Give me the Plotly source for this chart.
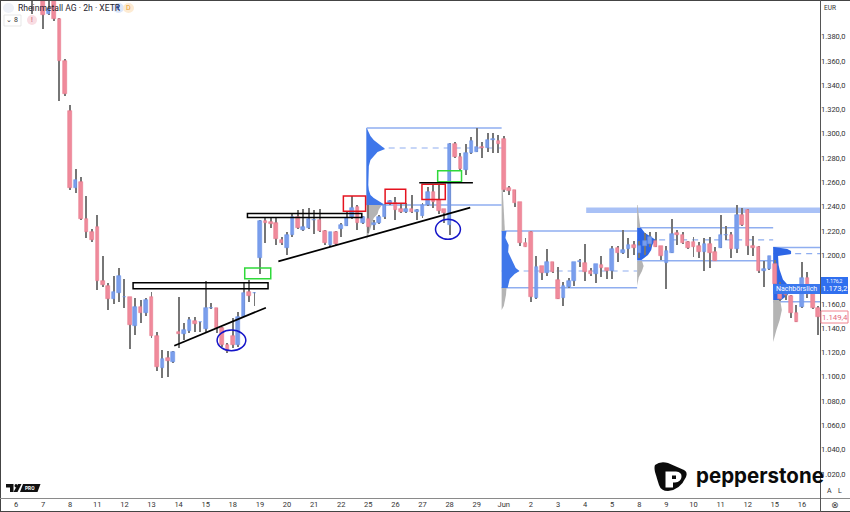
import plotly.graph_objects as go

W, H = 850, 512
ML, MR, MT, MB = 1, 30, 1, 14

# candles, index 0 = first candle of day 6, 5 candles (2h) per day
first_idx = 3
opens = [1425,1430,1420,1398.5,1411,1394.5,1360,1319,1255.4,1260.6,
         1230,1219.4,1223,1178.8,1174.7,1163.8,1169.2,1165.6,1165.4,1141.8,
         1157.2,1152.3,1165.4,1133.8,1107.5,1115.2,1112.4,1136.6,1135.2,1137.7,
         1146.2,1144.7,1139,1156.6,1156.4,1139.9,1126.2,1133.6,1126.2,1149.5,
         1169.5,1169,1197.5,1228.5,1227.5,1226.3,1212.6,1206.2,1216.4,1231.3,
         1220.8,1222.7,1229,1229,1220.2,1208.5,1219.4,1221.9,1224.3,1231.8,
         1239.5,1226.3,1229.6,1224.7,1226.3,1231.3,1242.2,1242.8,1237.9,1235.6,
         1237.9,1236,1232.3,1241.4,1252.3,1245.5,1237.9,1225,1292,1280.6,
         1270.2,1284,1285.2,1289.4,1288,1295,1294.4,1295.7,1255.1,1253.7,
         1243.6,1209.9,1219.4,1164.6,1191,1185.7,1194.2,1179.7,1165.1,1173.7,
         1179,1194.5,1193.4,1186.8,1184.4,1192,1189.3,1186.8,1205.7,1201.6,
         1205.4,1208.5,1202,1208,1209,1212,1207.6,1193.4,1202,1218,
         1216.4,1210.7,1210.7,1207.6,1203,1209,1202.4,1206.2,1216.4,1216.7,
         1205,1233,1237.3,1207.6,1207,1187.3,1188.4,1192.8,1175.5,1167.6,
         1166.5,1152.3,1157.2,1181,1173.2,1156.7]
closes = [1415,1418,1398,1403,1394.5,1360,1333,1255.4,1262,1229.6,
          1219.4,1212.6,1178.8,1175.5,1163.8,1169.8,1183,1166,1142.6,1157.7,
          1152.3,1163.2,1133.6,1108.3,1114.6,1112.8,1120.6,1135.2,1138.5,1146.7,
          1143.7,1145,1156.6,1157,1139.9,1126.2,1121.5,1126.2,1149.5,1169.2,
          1166.7,1169.3,1228.5,1226.3,1226,1213.2,1210.4,1216.4,1231.8,1222.2,
          1223,1229.9,1229.4,1220,1210.4,1218.9,1209,1224.9,1231,1239,
          1226.3,1231.3,1223.5,1226.3,1231.8,1241.4,1244.7,1237.3,1235.6,1237.9,
          1235.6,1237.5,1241.4,1252.3,1244.1,1236.7,1234.6,1291.6,1280.6,1270.8,
          1284,1294,1289.4,1288,1295,1295.5,1291.6,1253.7,1252.9,1243.3,
          1209.9,1207,1165.4,1190.6,1185.7,1194.2,1186,1164,1175,1178.8,
          1194.2,1195.5,1186,1184.6,1192.6,1189.8,1186.8,1204.9,1201.6,1204.3,
          1208.5,1205.7,1208,1212,1215,1207,1199.7,1203.5,1217.8,1216.7,
          1209.9,1205.7,1206.6,1203,1209,1202,1195.5,1216.7,1216.9,1205,
          1233,1224.9,1207.6,1205.7,1187.3,1189,1199.4,1176,1164,1167,
          1152.3,1145.3,1181,1168,1156.7,1149.4]
highs = [1430,1432,1425,1412,1415,1395,1361.5,1323.7,1271,1264.7,
         1248.8,1222,1233,1199.4,1177,1183,1189.3,1180.5,1166,1164.6,
         1163.2,1164.8,1170,1137,1122,1121.5,1121.5,1165.9,1144,1149.4,
         1149.4,1145.4,1178.8,1160.5,1157,1141,1127.5,1148,1153.3,1177,
         1179.7,1169.5,1229,1231.8,1230.4,1230.4,1215.3,1219.4,1234.8,1237,
         1238.4,1239.2,1237.3,1237.9,1221,1219.4,1219.8,1226.8,1235.9,1248.8,
         1241.4,1232,1241.4,1229,1233,1242.6,1245.5,1248.3,1242.8,1243.3,
         1249.6,1238,1243,1256.4,1257.9,1257.9,1238.4,1292.8,1293.5,1283.9,
         1292,1297.6,1304.5,1293.5,1300.4,1300.4,1299,1298.5,1257,1254,
         1244,1214.4,1220.2,1199.7,1191.5,1204.9,1194.6,1190.6,1178,1181.6,
         1194.6,1197,1209,1189.3,1193,1199.4,1189.7,1207.9,1207.6,1220.8,
         1214,1212,1212,1218,1219.4,1219.4,1208,1207.6,1229.6,1220.8,
         1219.4,1211.5,1215.3,1211.2,1214.4,1215.3,1207,1233,1224,1219,
         1241.4,1238.7,1238.4,1215.9,1207.6,1195.5,1199.7,1196,1178,1170,
         1167,1159,1194.2,1186.5,1175,1158]
lows = [1398.5,1412,1386,1398,1392.8,1327,1331,1253.7,1251,1229.3,
        1214,1211.2,1171.5,1174,1155,1160,1161.8,1156.7,1122.9,1134.4,
        1144.5,1150,1132.2,1104.8,1098.8,1099.6,1111.4,1124,1130.3,1136,
        1137,1137,1137,1155.5,1136,1124.8,1119.8,1123.5,1124.8,1149,
        1161.8,1158,1184.6,1209.9,1222.2,1208.5,1208.5,1200.2,1215.3,1221.4,
        1220,1222,1217.3,1218.9,1208.5,1207,1207.7,1215.3,1224,1230,
        1220.8,1225.5,1218.1,1220.8,1225.5,1229.6,1241.4,1229,1234.8,1234.8,
        1234.8,1229,1230.4,1240.6,1238.7,1233.7,1226.3,1216.7,1279.8,1270,
        1266,1283.5,1284.8,1279.8,1285.2,1284.4,1284.4,1252.3,1250,1240,
        1207.6,1206.7,1161.8,1164,1179.7,1183,1185.5,1163.8,1158.5,1173,
        1174.7,1190.6,1179,1183,1177,1182.4,1180.5,1180.7,1194.7,1201,
        1197.5,1200.2,1198,1200,1207,1206.8,1196.1,1172,1202,1208.5,
        1209,1205,1198.8,1197.5,1187.3,1189.3,1195.3,1206,1212.6,1198,
        1201.6,1224.5,1200.2,1199.4,1185.2,1174,1188,1170,1162.5,1163,
        1148.2,1145,1157,1165,1156,1134.4]

day_labels = ["6","7","8","11","12","13","14","15","18","19","20","21","22","25","26",
              "27","28","29","Jun","2","3","4","5","8","9","10","11","12","15","16"]
price_ticks = [1020,1040,1060,1080,1100,1120,1140,1160,1180,1200,1220,1240,1260,1280,
               1300,1320,1340,1360,1380]

# volume profiles: start candle, price levels, widths in candles
vp1_start = 64.7
vp1_prices = [1304.8,1301.5,1298.2,1294.9,1291.6,1289.1,1287.5,1285,1281.7,1278.4,
              1273.5,1266.1,1257.9,1253.7,1249.6,1247.1,1244.7,1242.2,1241.4]
vp1_widths = [0,.4,.7,1.3,2.2,3,3.4,2,1.3,.7,.4,.3,.3,.4,.7,1.3,2.2,3.1,3.1]
vp1_low_prices = [1241.4,1237.3,1234,1230.7,1225.8,1219.2,1212.6]
vp1_low_widths = [2.8,2.2,2,1.3,.9,.5,0]

vp2_start = 89.6
vp2_prices = [1220,1214.2,1208.5,1202.7,1197.8,1192.8,1189.5,1187.1,1184.6,1180.5,1176.4,1173.1]
vp2_widths = [.9,.7,1.3,1.2,1.7,2.2,2.6,3.3,2.4,1.5,1.2,1.1]
vp2_high_prices = [1253.7,1245.5,1237.3,1229,1220]
vp2_high_widths = [.2,.3,.4,.5,.6]
vp2_low_prices = [1173.1,1167.3,1163.2,1158.3,1155]
vp2_low_widths = [.9,.8,.6,.4,0]

vp3_start = 114.6
vp3_prices = [1222.6,1218.5,1212.7,1208.5,1204.4,1200.2,1196.1]
vp3_widths = [.7,1.4,3.4,2.8,2.6,2,.8]
vp3_high_prices = [1241.4,1233,1222.6]
vp3_high_widths = [.1,.3,.6]
vp3_low_prices = [1195.3,1191.2,1187,1182,1175]
vp3_low_widths = [.9,1.2,.9,.3,0]

vp4_start = 139.7
vp4_prices = [1206.8,1205.2,1203.5,1201,1199.4,1192,1188,1180,1175.5,1167.3,1163.2]
vp4_widths = [.2,2.6,3.3,3.3,.9,1,1.2,1.8,2.7,2.7,1.5]
vp4_low_prices = [1163.2,1155,1146.8,1138.6,1128.7]
vp4_low_widths = [1.3,1.6,1.2,.6,0]

# value area boxes: x0, x1, top, bottom, poc
va_boxes = [(64.7,89.6,1304.8,1241.4,1288.3),
            (89.6,114.6,1220,1173.3,1187.1),
            (114.6,139.7,1222.6,1195.6,1212.7),
            (139.7,148.4,1206.4,1161.8,1201.4)]
band = (105.2,148.4,1239.4,1234.8)

# hand drawn stuff on the chart
black_boxes = [(21.6,46.5,1177.4,1172.4),(42.7,63.8,1234.5,1231.2)]
green_boxes = [(42.2,47,1189.5,1180.7),(77.8,82.2,1269.6,1260.5)]
red_boxes = [(60.4,64.5,1248.8,1236.2),(68.1,71.9,1254.3,1242.8),(74.9,79.2,1258.4,1246)]
circles = [(37.1,42.4,1138.5,1121.5),(77.4,82,1229.6,1213.2)]
black_lines = [(29.2,1125.6,46.1,1156.9),(48.4,1195,83.8,1239.2),(74.4,1259.7,84.3,1259.7)]

X_RANGE = [-2.77, 148.34]
Y_RANGE = [1000.25, 1409.3]

RED = "#F08A9B"
RED_EDGE = "#E87C90"
BLUE = "#7A9EEC"
BLUE_EDGE = "#6C93E8"
VP_BLUE = "#3F77EA"
VP_DARK = "#2D66E6"
VP_GRAY = "#B4B4B4"
BOX_BLUE = "#8FAEF0"


def px(v):
    return (v - ML) / (W - ML - MR)


def py(v):
    return 1 - (v - MT) / (H - MT - MB)


def path(points):
    # points given in image pixels, goes to paper coords for the shape path
    out = []
    for p in points:
        if isinstance(p, str):
            out.append(p)
        else:
            out.append(f"{px(p[0]):.5f},{py(p[1]):.5f}")
    return " ".join(out)


def profile(start, prices, widths, color):
    xs = [start] + [start + w for w in widths] + [start]
    ys = [prices[0]] + prices + [prices[-1]]
    return go.Scatter(x=xs, y=ys, mode="lines", fill="toself", fillcolor=color,
                      line=dict(width=0, color=color), hoverinfo="skip", showlegend=False)


fig = go.Figure()

# profiles sit on the base axes, candles on the overlay axes so they stay on top
fig.add_trace(profile(vp1_start, vp1_prices, vp1_widths, VP_BLUE))
fig.add_trace(profile(vp1_start, vp1_low_prices, vp1_low_widths, VP_GRAY))
fig.add_trace(profile(vp2_start, vp2_prices, vp2_widths, VP_BLUE))
fig.add_trace(profile(vp2_start, vp2_high_prices, vp2_high_widths, VP_GRAY))
fig.add_trace(profile(vp2_start, vp2_low_prices, vp2_low_widths, VP_GRAY))
fig.add_trace(profile(vp3_start, vp3_prices, vp3_widths, VP_DARK))
fig.add_trace(profile(vp3_start, vp3_high_prices, vp3_high_widths, VP_GRAY))
fig.add_trace(profile(vp3_start, vp3_low_prices, vp3_low_widths, VP_GRAY))
fig.add_trace(profile(vp4_start, vp4_prices, vp4_widths, VP_DARK))
fig.add_trace(profile(vp4_start, vp4_low_prices, vp4_low_widths, VP_GRAY))

idx = list(range(first_idx, first_idx + len(opens)))
fig.add_trace(go.Bar(x=idx, base=lows, y=[h - l for h, l in zip(highs, lows)], width=0.18,
                     marker=dict(color="#767676", line=dict(width=0)),
                     xaxis="x2", yaxis="y2", hoverinfo="skip", showlegend=False))
fig.add_trace(go.Bar(x=idx, base=opens, y=[c - o for o, c in zip(opens, closes)], width=0.66,
                     marker=dict(color=[BLUE if c >= o else RED for o, c in zip(opens, closes)],
                                 line=dict(width=0.6,
                                           color=[BLUE_EDGE if c >= o else RED_EDGE
                                                  for o, c in zip(opens, closes)])),
                     xaxis="x2", yaxis="y2", hoverinfo="skip", showlegend=False))

shapes = []

# volume profile boxes under everything
for x0, x1, top, bot, poc in va_boxes:
    shapes.append(dict(type="line", x0=x0, x1=x1, y0=top, y1=top, layer="below",
                       line=dict(color=BOX_BLUE, width=1.5)))
    shapes.append(dict(type="line", x0=x0, x1=x1, y0=bot, y1=bot, layer="below",
                       line=dict(color=BOX_BLUE, width=1.5)))
    shapes.append(dict(type="line", x0=x0, x1=x1, y0=poc, y1=poc, layer="below",
                       line=dict(color=BOX_BLUE, width=1.2, dash="6px,5px")))
shapes.append(dict(type="line", x0=va_boxes[0][0], x1=va_boxes[0][0], y0=va_boxes[0][2], y1=va_boxes[0][3],
                   layer="below", line=dict(color=BOX_BLUE, width=1.2)))
shapes.append(dict(type="rect", x0=band[0], x1=band[1], y0=band[2], y1=band[3], layer="below",
                   fillcolor="#A9C1F6", line=dict(width=0)))

for x0, x1, y0, y1 in black_boxes:
    shapes.append(dict(type="rect", x0=x0, x1=x1, y0=y0, y1=y1, line=dict(color="#000000", width=1.5)))
for x0, x1, y0, y1 in green_boxes:
    shapes.append(dict(type="rect", x0=x0, x1=x1, y0=y0, y1=y1, line=dict(color="#2FD93A", width=1.5)))
for x0, x1, y0, y1 in red_boxes:
    shapes.append(dict(type="rect", x0=x0, x1=x1, y0=y0, y1=y1, line=dict(color="#E5131F", width=1.5)))
for x0, x1, y0, y1 in circles:
    shapes.append(dict(type="circle", x0=x0, x1=x1, y0=y0, y1=y1, line=dict(color="#1414C8", width=1.5)))
for x0, y0, x1, y1 in black_lines:
    shapes.append(dict(type="line", x0=x0, x1=x1, y0=y0, y1=y1, line=dict(color="#000000", width=1.7)))


def paper_rect(x0, y0, x1, y1, fill=None, line=None, lw=1, kind="rect"):
    shapes.append(dict(type=kind, xref="paper", yref="paper", x0=px(x0), x1=px(x1), y0=py(y0), y1=py(y1),
                       fillcolor=fill, line=dict(color=line, width=lw if line else 0)))


def paper_path(points, fill):
    shapes.append(dict(type="path", xref="paper", yref="paper", path=path(points),
                       fillcolor=fill, line=dict(width=0)))


# window edges
paper_rect(0, 0, 850, 1, fill="#444444")
paper_rect(0, 0, 1, 512, fill="#444444")
paper_rect(0, 511, 850, 512, fill="#444444")
paper_rect(0, 498, 850, 499, fill="#8A8A8A")
paper_rect(820, 0, 821, 512, fill="#555555")

# price tags
paper_rect(773, 284, 820, 294, fill="#3B78EE")
paper_rect(821, 277, 848, 294, fill="#2F6FEF")
paper_rect(821, 311, 848, 323, fill="#FFFFFF", line="#F0848F", lw=1)

# header chips
paper_rect(3, 3, 14, 13, fill="#EEF1F8", kind="circle")
paper_rect(113, 3, 124, 13, fill="#DCE6FA", kind="circle")
paper_rect(123, 3, 134, 13, fill="#FDEBD3", kind="circle")
paper_rect(4, 15, 21, 26, fill="#FFFFFF", line="#DDDDDD", lw=0.7)
paper_rect(27, 15, 37, 25, fill="#F9DDE3", kind="circle")

# pepperstone logo
paper_path(["M", (655, 465), "Q", (660, 461), (668, 463), "L", (684, 470), "Q", (688, 472), (686, 477),
            "Q", (680, 490), (668, 491), "Q", (661, 491), (659, 485), "L", (655, 472), "Q", (654, 467), (655, 465), "Z"],
           "#0B0B0B")
paper_path(["M", (665.5, 471.5), "H", f"{px(676):.5f}", "Q", (682, 472), (681.5, 477), "Q", (681, 482), (675, 482.5),
            "H", f"{px(673):.5f}", "V", f"{py(487.5):.5f}", "H", f"{px(665.5):.5f}", "Z"], "#FFFFFF")
paper_path(["M", (672, 475.5), "H", f"{px(676):.5f}", "V", f"{py(479):.5f}", "H", f"{px(672):.5f}", "Z"], "#0B0B0B")

# tradingview mark
paper_path(["M", (6, 484), "H", f"{px(13.5):.5f}", "V", f"{py(492):.5f}", "H", f"{px(10):.5f}",
            "V", f"{py(487.5):.5f}", "H", f"{px(6):.5f}", "Z"], "#111111")
paper_rect(14.5, 484, 17.5, 487.5, fill="#111111", kind="circle")
paper_path(["M", (18, 484), "L", (21.5, 484), "L", (17.5, 492), "L", (13.5, 492), "Z"], "#111111")
paper_path(["M", (23, 484), "L", (40.5, 484), "L", (37.5, 492), "L", (20, 492), "Z"], "#111111")

annotations = []


def label(x, y, text, size=7.5, color="#333333", anchor="center", family="Roboto"):
    annotations.append(dict(xref="paper", yref="paper", x=px(x), y=py(y), text=text, showarrow=False,
                            xanchor=anchor, yanchor="middle", font=dict(size=size, color=color, family=family)))


label(15.5, 8, "Rheinmetall AG · 2h · XETR", size=8.6, color="#1E222D", anchor="left")
label(118.5, 8, "€", size=7, color="#1A3FA8")
label(128.5, 8, "D", size=7, color="#E89A2C")
label(9, 20.5, "⌄", size=7, color="#333333", family="DejaVu Sans")
label(16, 20.5, "8", size=7, color="#333333")
label(32, 20, "!", size=7, color="#C2455E")

label(830, 8, "EUR", size=6.5, color="#333333")
label(829, 491, "A", size=7, color="#333333")
label(840, 491, "L", size=7, color="#333333")
label(835, 505, "⊗", size=9, color="#444444", family="DejaVu Sans")

label(796.5, 289, "Nachbörslich", size=7, color="#FFFFFF")
label(834.5, 281, "1.176,2", size=5, color="#FFFFFF")
label(834.5, 288.5, "1.173,2", size=7.8, color="#FFFFFF")
label(834.5, 317, "1.149,4", size=7.8, color="#E4697C")

label(694, 475, "<b>pepperstone</b>", size=20.5, color="#0B0B0B", anchor="left", family="Inter")
label(29.5, 488, "<b>PRO</b>", size=4.8, color="#FFFFFF", family="Roboto")

fig.update_layout(
    width=W, height=H, margin=dict(l=ML, r=MR, t=MT, b=MB, pad=0),
    paper_bgcolor="#FFFFFF", plot_bgcolor="#FFFFFF",
    barmode="overlay", bargap=0, showlegend=False,
    shapes=shapes, annotations=annotations,
    font=dict(family="Roboto", size=7.5, color="#333333"),
    xaxis=dict(range=X_RANGE, tickmode="array", tickvals=[5 * i for i in range(len(day_labels))],
               ticktext=day_labels, showgrid=False, zeroline=False, ticks="", showline=False,
               tickfont=dict(size=7.5, color="#333333"), ticklen=0),
    yaxis=dict(range=Y_RANGE, side="right", tickmode="array", tickvals=price_ticks,
               ticktext=[f"{p // 1000}.{p % 1000:03d},0" for p in price_ticks],
               showgrid=False, zeroline=False, ticks="", showline=False,
               tickfont=dict(size=7.5, color="#333333")),
    xaxis2=dict(range=X_RANGE, overlaying="x", visible=False),
    yaxis2=dict(range=Y_RANGE, overlaying="y", visible=False),
)

fig.write_html("out.html", config=dict(displayModeBar=False),
               post_script="document.body.style.margin='0';")
